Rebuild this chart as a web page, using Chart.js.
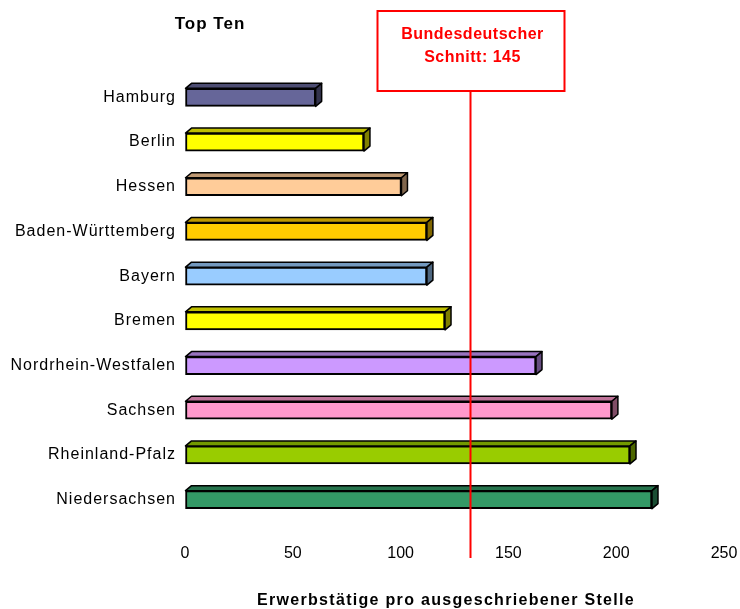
<!DOCTYPE html>
<html>
<head>
<meta charset="utf-8">
<script src="https://cdn.jsdelivr.net/npm/chart.js@4.4.1/dist/chart.umd.min.js"></script>
<style>
  body { margin: 0; background: #fff; }
  canvas { display: block; }
</style>
</head>
<body>
<canvas id="topTen" width="740" height="609"></canvas>
<script>
// data
const states = ['Hamburg', 'Berlin', 'Hessen', 'Baden-Württemberg', 'Bayern', 'Bremen',
    'Nordrhein-Westfalen', 'Sachsen', 'Rheinland-Pfalz', 'Niedersachsen'];
const values = [60.6, 83, 100.4, 112.2, 112.2, 120.6, 162.8, 198, 206.4, 216.6];
const barColors = ['#666699', '#FFFF00', '#FFCC99', '#FFCC00', '#99CCFF', '#FFFF00',
    '#CC99FF', '#FF99CC', '#99CC00', '#339966'];
const xTicks = [0, 50, 100, 150, 200, 250];
const schnittLine = 132.4;
const schnittText = ['Bundesdeutscher', 'Schnitt: 145'];
const chartTitle = 'Top Ten';
const axisTitle = 'Erwerbstätige pro ausgeschriebener Stelle';

function shade(hex, f) {
    const n = parseInt(hex.slice(1), 16);
    const r = Math.round(((n >> 16) & 255) * f);
    const g = Math.round(((n >> 8) & 255) * f);
    const b = Math.round((n & 255) * f);
    return `rgb(${r}, ${g}, ${b})`;
}

// fake 3d: top and side faces on each bar
const depthPlugin = {
    id: 'depth',
    beforeDraw(chart) {
        // y labels are drawn first (z 0), they get the wide spacing
        chart.ctx.letterSpacing = '1px';
    },
    beforeDatasetsDraw(chart) {
        chart.ctx.letterSpacing = '0px';
    },
    afterDatasetsDraw(chart) {
        const ctx = chart.ctx;
        const dx = 6, dy = 5;
        chart.getDatasetMeta(0).data.forEach((bar, i) => {
            const p = bar.getProps(['x', 'y', 'base', 'height'], true);
            const top = p.y - p.height / 2;
            const bottom = p.y + p.height / 2;
            ctx.save();
            ctx.lineWidth = 1.5;
            ctx.strokeStyle = '#000';
            ctx.lineJoin = 'round';
            ctx.beginPath();
            ctx.moveTo(p.base, top);
            ctx.lineTo(p.base + dx, top - dy);
            ctx.lineTo(p.x + dx, top - dy);
            ctx.lineTo(p.x, top);
            ctx.closePath();
            ctx.fillStyle = shade(barColors[i], 0.75);
            ctx.fill();
            ctx.stroke();
            ctx.beginPath();
            ctx.moveTo(p.x, top);
            ctx.lineTo(p.x + dx, top - dy);
            ctx.lineTo(p.x + dx, bottom - dy);
            ctx.lineTo(p.x, bottom);
            ctx.closePath();
            ctx.fillStyle = shade(barColors[i], 0.5);
            ctx.fill();
            ctx.stroke();
            ctx.restore();
        });
    },
    afterDraw(chart) {
        const ctx = chart.ctx;
        const lx = Math.round(chart.scales.x.getPixelForValue(schnittLine)) + 0.5;
        ctx.save();
        // average line
        ctx.strokeStyle = '#FF0000';
        ctx.lineWidth = 2;
        ctx.beginPath();
        ctx.moveTo(lx, 91);
        ctx.lineTo(lx, 558);
        ctx.stroke();
        // label box
        ctx.fillStyle = '#fff';
        ctx.fillRect(lx - 93, 11, 187, 80);
        ctx.strokeRect(lx - 93, 11, 187, 80);
        ctx.fillStyle = '#FF0000';
        ctx.letterSpacing = '0.5px';
        ctx.font = 'bold 16px "Liberation Sans", Arial, sans-serif';
        ctx.textAlign = 'center';
        ctx.textBaseline = 'middle';
        ctx.fillText(schnittText[0], lx + 2, 35);
        ctx.fillText(schnittText[1], lx + 2, 58);
        // titles
        ctx.fillStyle = '#000';
        ctx.letterSpacing = '1px';
        ctx.font = 'bold 17px "Liberation Sans", Arial, sans-serif';
        ctx.fillText(chartTitle, 210, 24);
        ctx.letterSpacing = '1.3px';
        ctx.font = 'bold 16px "Liberation Sans", Arial, sans-serif';
        ctx.fillText(axisTitle, 446, 601);
        ctx.restore();
    }
};

const ctx = document.getElementById('topTen').getContext('2d');
new Chart(ctx, {
    type: 'bar',
    data: {
        labels: states,
        datasets: [{
            data: values,
            backgroundColor: barColors,
            borderColor: '#000',
            borderWidth: 2,
            borderSkipped: false,
            barThickness: 18
        }]
    },
    options: {
        indexAxis: 'y',
        responsive: false,
        animation: false,
        layout: { padding: { top: 75, right: 16, left: 0, bottom: 0 } },
        plugins: {
            legend: { display: false },
            tooltip: { enabled: false }
        },
        scales: {
            x: {
                min: 0,
                max: 250,
                afterBuildTicks: (scale) => {
                    scale.ticks = xTicks.map(v => ({ value: v }));
                },
                afterFit: (scale) => { scale.height = 87; },
                // invisible tick marks just push the labels down
                grid: { color: 'rgba(0,0,0,0)', drawOnChartArea: false, drawTicks: true, tickLength: 22 },
                border: { display: false },
                ticks: {
                    z: 1,
                    padding: 0,
                    color: '#000',
                    font: { family: '"Liberation Sans", Arial, sans-serif', size: 16 }
                }
            },
            y: {
                afterFit: (scale) => { scale.width = 185; },
                grid: { display: false, drawTicks: false },
                border: { display: false },
                ticks: {
                    padding: 9,
                    color: '#000',
                    font: { family: '"Liberation Sans", Arial, sans-serif', size: 16 }
                }
            }
        }
    },
    plugins: [depthPlugin]
});
</script>
</body>
</html>
